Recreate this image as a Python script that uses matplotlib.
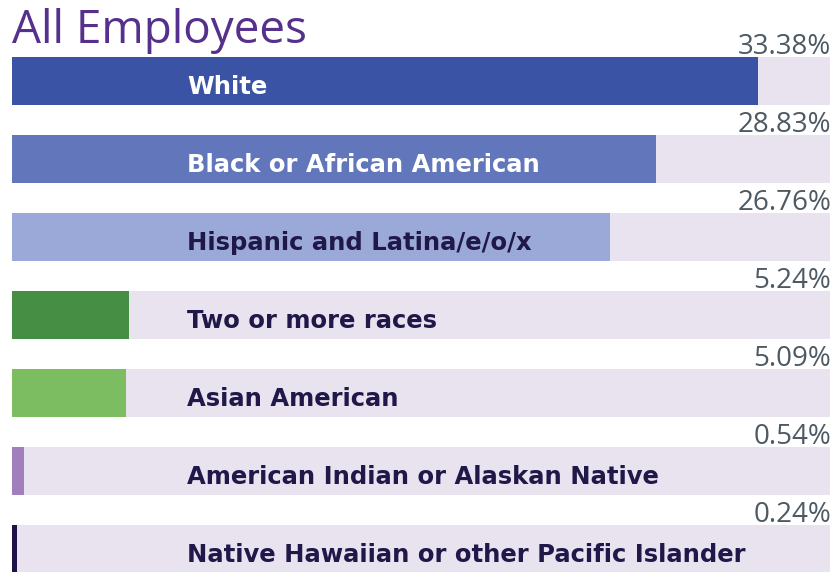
import matplotlib
matplotlib.use("Agg")
import matplotlib.pyplot as plt

# data
groups = ["White", "Black or African American", "Hispanic and Latina/e/o/x",
          "Two or more races", "Asian American",
          "American Indian or Alaskan Native",
          "Native Hawaiian or other Pacific Islander"]
shares = [33.38, 28.83, 26.76, 5.24, 5.09, 0.54, 0.24]

bar_colors = ["#3a53a4", "#6276bb", "#9ba9d9", "#468e43", "#7dbd62", "#a07fbd", "#1f1248"]
text_colors = ["white", "white", "#1f1848", "#1f1848", "#1f1848", "#1f1848", "#1f1848"]
track = "#e9e3f0"
xmax = 36.6

plt.rcParams["font.family"] = ["Open Sans", "DejaVu Sans"]

fig = plt.figure(figsize=(8.39, 5.72), dpi=100)
ax = fig.add_axes([12 / 839, 0, 818 / 839, 1])
ax.set_xlim(0, xmax)
ax.set_ylim(6.295, -1.038)
ax.axis("off")

pos = list(range(len(groups)))
ax.barh(pos, [xmax] * len(pos), height=0.615, color=track)
ax.barh(pos, shares, height=0.615, color=bar_colors)

for i, (g, v) in enumerate(zip(groups, shares)):
    ax.text(xmax + 0.05, i - 0.35, f"{v:.2f}%", ha="right", va="baseline",
            fontsize=20, color="#4d5a64")
    ax.text(7.85, i + 0.08, g, ha="left", va="center", fontsize=17.5,
            fontweight="bold", color=text_colors[i], family="DejaVu Sans")

fig.text(12 / 839, 1 - 8 / 572, "All Employees", ha="left", va="top",
         fontsize=33, color="#55308d")

fig.savefig("out.png", dpi=100)
